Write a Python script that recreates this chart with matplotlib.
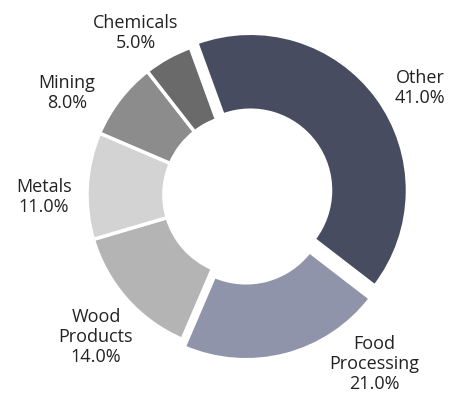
import matplotlib
matplotlib.use("Agg")
import matplotlib.pyplot as plt

categories = ["Other", "Food\nProcessing", "Wood\nProducts", "Metals", "Mining", "Chemicals"]
shares = [41.0, 21.0, 14.0, 11.0, 8.0, 5.0]
colors = ["#474c60", "#8f94ab", "#b4b4b4", "#d3d3d3", "#8c8c8c", "#6a6a6a"]
explode_px = [8, 8, 0, 0, 0, 0]

# label centers in pixel coordinates (x, y from top)
label_pos = [(420, 88), (374, 364), (96, 337), (44, 197), (67, 93), (136, 33)]

W, H = 454, 397
fig = plt.figure(figsize=(W / 100, H / 100), dpi=100)
ax = fig.add_axes([0, 0, 1, 1])

cx, cy, R = 244, H - 195, 157
ax.pie(shares, colors=colors, explode=explode_px, startangle=110, counterclock=False,
       radius=R, center=(cx, cy), frame=True,
       wedgeprops=dict(width=R * 0.49, edgecolor="white", linewidth=2.5))
ax.set_xlim(0, W)
ax.set_ylim(0, H)
ax.set_aspect("equal")
ax.axis("off")

for cat, val, (x, y) in zip(categories, shares, label_pos):
    ax.text(x, H - y, f"{cat}\n{val:.1f}%", ha="center", va="center",
            fontsize=13, color="#222222", family="Open Sans", linespacing=1.15)

fig.savefig("out.png", dpi=100)
